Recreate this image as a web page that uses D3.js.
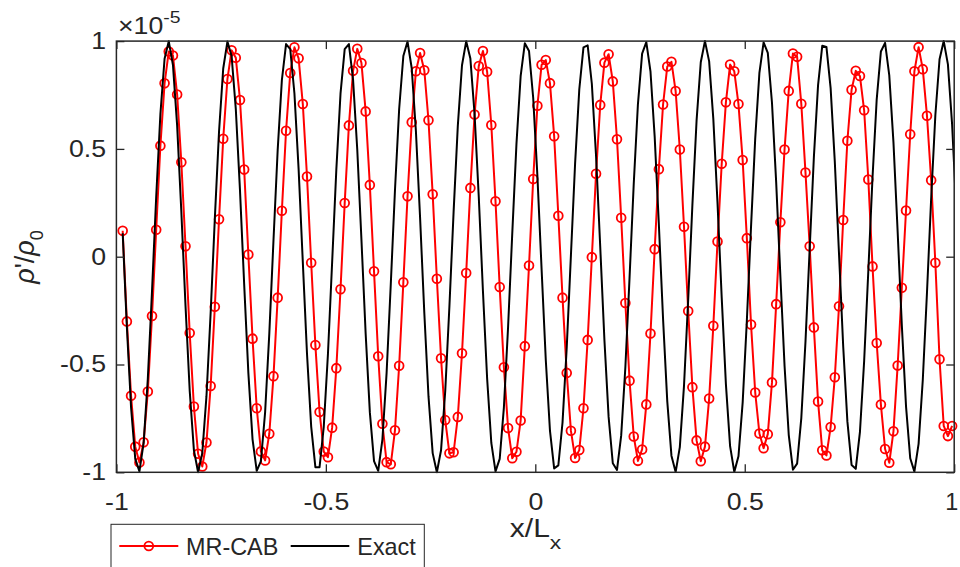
<!DOCTYPE html>
<html>
<head>
<meta charset="utf-8">
<script src="https://cdn.jsdelivr.net/npm/d3@7"></script>
<style>
  html, body { margin: 0; padding: 0; background: #fff; }
  svg { display: block; }
  text { font-family: "Liberation Sans", Arial, Helvetica, sans-serif; fill: #262626; }
</style>
</head>
<body>
<svg id="chart" width="960" height="567"></svg>
<script>
// ---------------- data ----------------
const seriesNames = ["MR-CAB", "Exact"];

// sample positions (cell centres)
const xGrid = [
-0.985,-0.975,-0.965,-0.955,-0.945,-0.935,-0.925,-0.915,-0.905,-0.895,
-0.885,-0.875,-0.865,-0.855,-0.845,-0.835,-0.825,-0.815,-0.805,-0.795,
-0.785,-0.775,-0.765,-0.755,-0.745,-0.735,-0.725,-0.715,-0.705,-0.695,
-0.685,-0.675,-0.665,-0.655,-0.645,-0.635,-0.625,-0.615,-0.605,-0.595,
-0.585,-0.575,-0.565,-0.555,-0.545,-0.535,-0.525,-0.515,-0.505,-0.495,
-0.485,-0.475,-0.465,-0.455,-0.445,-0.435,-0.425,-0.415,-0.405,-0.395,
-0.385,-0.375,-0.365,-0.355,-0.345,-0.335,-0.325,-0.315,-0.305,-0.295,
-0.285,-0.275,-0.265,-0.255,-0.245,-0.235,-0.225,-0.215,-0.205,-0.195,
-0.185,-0.175,-0.165,-0.155,-0.145,-0.135,-0.125,-0.115,-0.105,-0.095,
-0.085,-0.075,-0.065,-0.055,-0.045,-0.035,-0.025,-0.015,-0.005,0.005,
0.015,0.025,0.035,0.045,0.055,0.065,0.075,0.085,0.095,0.105,
0.115,0.125,0.135,0.145,0.155,0.165,0.175,0.185,0.195,0.205,
0.215,0.225,0.235,0.245,0.255,0.265,0.275,0.285,0.295,0.305,
0.315,0.325,0.335,0.345,0.355,0.365,0.375,0.385,0.395,0.405,
0.415,0.425,0.435,0.445,0.455,0.465,0.475,0.485,0.495,0.505,
0.515,0.525,0.535,0.545,0.555,0.565,0.575,0.585,0.595,0.605,
0.615,0.625,0.635,0.645,0.655,0.665,0.675,0.685,0.695,0.705,
0.715,0.725,0.735,0.745,0.755,0.765,0.775,0.785,0.795,0.805,
0.815,0.825,0.835,0.845,0.855,0.865,0.875,0.885,0.895,0.905,
0.915,0.925,0.935,0.945,0.955,0.965,0.975,0.985,0.995
];

// MR-CAB (x 1e-5)
const mrCab = [
0.12,-0.30,-0.645,-0.881,-0.955,-0.861,-0.625,-0.275,0.125,0.515,
0.804,0.952,0.933,0.752,0.438,0.048,-0.354,-0.695,-0.914,-0.973,
-0.862,-0.600,-0.232,0.174,0.547,0.824,0.957,0.923,0.727,0.404,
0.010,-0.380,-0.703,-0.903,-0.945,-0.821,-0.554,-0.190,0.213,0.584,
0.852,0.971,0.920,0.708,0.372,-0.028,-0.410,-0.720,-0.904,-0.930,
-0.793,-0.517,-0.151,0.249,0.609,0.862,0.964,0.898,0.674,0.333,
-0.068,-0.462,-0.775,-0.953,-0.963,-0.805,-0.506,-0.119,0.280,0.624,
0.860,0.945,0.865,0.633,0.290,-0.102,-0.471,-0.758,-0.912,-0.907,
-0.743,-0.448,-0.076,0.319,0.659,0.884,0.954,0.858,0.611,0.257,
-0.141,-0.513,-0.795,-0.935,-0.905,-0.76,-0.415,-0.041,0.36,0.70,
0.89,0.912,0.805,0.559,0.19,-0.19,-0.539,-0.807,-0.934,-0.897,
-0.703,-0.386,-0.002,0.385,0.704,0.900,0.939,0.813,0.545,0.181,
-0.215,-0.575,-0.834,-0.947,-0.894,-0.685,-0.356,0.035,0.406,0.706,
0.882,0.904,0.768,0.497,0.139,-0.252,-0.605,-0.852,-0.949,-0.881,
-0.658,-0.320,0.070,0.431,0.716,0.891,0.86,0.708,0.448,0.086,
-0.315,-0.63,-0.82,-0.888,-0.823,-0.583,-0.22,0.16,0.497,0.769,
0.942,0.927,0.709,0.39,0.048,-0.328,-0.672,-0.898,-0.922,-0.79,
-0.559,-0.23,0.17,0.538,0.774,0.862,0.838,0.679,0.358,-0.045,
-0.40,-0.686,-0.892,-0.956,-0.81,-0.505,-0.144,0.214,0.568,0.86,
0.972,0.87,0.654,0.355,-0.028,-0.476,-0.785,-0.832,-0.785
];

// Exact solution (x 1e-5): same grid plus one point just past x = 1
const xExact = xGrid.concat([1.005]);
const exact = [
0.109,-0.326,-0.699,-0.938,-0.996,-0.864,-0.566,-0.160,0.278,0.661,
0.918,0.999,0.889,0.608,0.210,-0.228,-0.622,-0.897,-1.0,-0.911,
-0.647,-0.260,0.178,0.581,0.873,0.998,0.931,0.686,0.309,-0.127,
-0.539,-0.847,-0.993,-0.948,-0.722,-0.357,0.076,0.495,0.819,0.986,
0.963,0.757,0.405,-0.025,-0.450,-0.788,-0.976,-0.976,-0.789,-0.451,
-0.026,0.403,0.756,0.963,0.986,0.820,0.496,0.077,-0.356,-0.721,
-0.948,-0.993,-0.848,-0.540,-0.128,0.308,0.685,0.931,0.998,0.874,
0.582,0.179,-0.259,-0.647,-0.911,-1.0,-0.898,-0.623,-0.229,0.209,
0.607,0.888,0.999,0.919,0.662,0.279,-0.159,-0.565,-0.864,-0.996,
-0.938,-0.700,-0.327,0.108,0.522,0.837,0.990,0.954,0.736,0.375,
-0.057,-0.478,-0.807,-0.982,-0.968,-0.769,-0.422,0.005,0.432,0.776,
0.971,0.980,0.801,0.468,0.046,-0.386,-0.743,-0.958,-0.989,-0.830,
-0.513,-0.097,0.338,0.708,0.942,0.995,0.858,0.556,0.148,-0.289,
-0.670,-0.923,-0.999,-0.883,-0.598,-0.198,0.240,0.632,0.902,1.0,
0.906,0.638,0.248,-0.190,-0.591,-0.879,-0.998,-0.926,-0.677,-0.297,
0.139,0.549,0.853,0.994,0.945,0.714,0.346,-0.088,-0.506,-0.826,
-0.988,-0.960,-0.749,-0.393,0.037,0.461,0.796,0.978,0.973,0.782,
0.440,0.014,-0.415,-0.764,-0.966,-0.984,-0.812,-0.485,-0.065,0.367,
0.730,0.952,0.992,0.841,0.530,0.116,-0.319,-0.694,-0.935,-0.997,
-0.868,-0.572,-0.167,0.270,0.656,0.916,1.0,0.892,0.614,0.217
];

const xTicks = [-1, -0.5, 0, 0.5, 1];
const xTickLabels = ["-1", "-0.5", "0", "0.5", "1"];
const yTicks = [-1, -0.5, 0, 0.5, 1];
const yTickLabels = ["-1", "-0.5", "0", "0.5", "1"];

// ---------------- layout ----------------
const L = 116.4, R = 954.2, T = 41.1, B = 472.3;
const axisColor = "#262626";
const tickFont = 23.4, stretch = 1.14;
const markerR = 4.4;

const svg = d3.select("#chart");
svg.append("rect").attr("width", 960).attr("height", 567).attr("fill", "#fff");

const x = d3.scaleLinear().domain([-1, 1]).range([L, R]);
const y = d3.scaleLinear().domain([-1, 1]).range([B, T]);

svg.append("defs").append("clipPath").attr("id", "plotclip")
  .append("rect").attr("x", L).attr("y", T - 1.5).attr("width", R - L).attr("height", B - T + 3);

// ---------------- series ----------------
const redData = xGrid.map((v, i) => [v, mrCab[i]]);
const blackData = xExact.map((v, i) => [v, exact[i]]);
const line = d3.line().x(d => x(d[0])).y(d => y(d[1]));

const gPlot = svg.append("g");
gPlot.append("path")
  .datum(redData)
  .attr("d", line)
  .attr("clip-path", "url(#plotclip)")
  .attr("fill", "none")
  .attr("stroke", "#ff0000")
  .attr("stroke-width", 2)
  .attr("stroke-linejoin", "round");

gPlot.append("g").selectAll("circle")
  .data(redData)
  .join("circle")
  .attr("cx", d => x(d[0]))
  .attr("cy", d => y(d[1]))
  .attr("r", markerR)
  .attr("fill", "none")
  .attr("stroke", "#ff0000")
  .attr("stroke-width", 1.8);

gPlot.append("path")
  .datum(blackData)
  .attr("d", line)
  .attr("clip-path", "url(#plotclip)")
  .attr("fill", "none")
  .attr("stroke", "#000000")
  .attr("stroke-width", 2)
  .attr("stroke-linejoin", "round");

// ---------------- axes ----------------
function styleAxis(g) {
  g.attr("color", axisColor);
  g.select(".domain").remove();
  g.selectAll(".tick line").attr("stroke-width", 1.3);
  g.selectAll(".tick text")
    .attr("font-size", tickFont)
    .attr("font-family", "'Liberation Sans', Arial, Helvetica, sans-serif")
    .attr("fill", axisColor)
    .attr("transform", `scale(${stretch},1)`);
}

svg.append("g").attr("transform", `translate(0,${B})`)
  .call(d3.axisBottom(x).tickValues(xTicks).tickFormat((d, i) => xTickLabels[i])
    .tickSizeInner(-8).tickSizeOuter(0).tickPadding(21.1))
  .call(styleAxis)
  .call(g => g.selectAll(".tick text")
    .filter(d => d === xTicks[xTicks.length - 1])
    .attr("transform", null)
    .attr("x", -3));

svg.append("g").attr("transform", `translate(0,${T})`)
  .call(d3.axisTop(x).tickValues(xTicks).tickFormat(() => "")
    .tickSizeInner(-8).tickSizeOuter(0))
  .call(styleAxis);

svg.append("g").attr("transform", `translate(${L},0)`)
  .call(d3.axisLeft(y).tickValues(yTicks).tickFormat((d, i) => yTickLabels[i])
    .tickSizeInner(-8).tickSizeOuter(0).tickPadding(10.4))
  .call(styleAxis)
  .call(g => g.selectAll(".tick text").attr("x", -10.4 / stretch));

svg.append("g").attr("transform", `translate(${R},0)`)
  .call(d3.axisRight(y).tickValues(yTicks).tickFormat(() => "")
    .tickSizeInner(-8).tickSizeOuter(0))
  .call(styleAxis);

// box
svg.append("rect")
  .attr("x", L).attr("y", T).attr("width", R - L).attr("height", B - T)
  .attr("fill", "none").attr("stroke", axisColor).attr("stroke-width", 1.5);

// exponent label
const expo = svg.append("text")
  .attr("transform", `translate(118,34.3) scale(${stretch},1)`)
  .attr("font-size", tickFont);
expo.append("tspan").text("\u00d710");
expo.append("tspan").attr("font-size", 17).attr("dy", -11.5).text("-5");

// x label
const xl = svg.append("text")
  .attr("transform", "translate(535.5,536.7) scale(1.2,1)")
  .attr("text-anchor", "middle").attr("font-size", 25);
xl.append("tspan").text("x/L");
xl.append("tspan").attr("font-size", 19).attr("dy", 12).text("x");

// y label
const yl = svg.append("text")
  .attr("transform", "translate(34,257) rotate(-90)")
  .attr("text-anchor", "middle").attr("font-size", 27);
yl.append("tspan").attr("font-style", "italic").text("\u03c1");
yl.append("tspan").text("'/");
yl.append("tspan").attr("font-style", "italic").text("\u03c1");
yl.append("tspan").attr("font-size", 18).attr("dy", 9).text("0");

// ---------------- legend ----------------
const lg = svg.append("g");
lg.append("rect").attr("x", 111).attr("y", 524.3).attr("width", 313.3).attr("height", 60)
  .attr("fill", "#fff").attr("stroke", axisColor).attr("stroke-width", 1);

const legendItems = [
  { name: seriesNames[0], color: "#ff0000", marker: true, x0: 119.3, x1: 178.3, tx: 186 },
  { name: seriesNames[1], color: "#000000", marker: false, x0: 290.7, x1: 349.3, tx: 357.3 }
];
legendItems.forEach(it => {
  lg.append("line").attr("x1", it.x0).attr("x2", it.x1).attr("y1", 546).attr("y2", 546)
    .attr("stroke", it.color).attr("stroke-width", 2);
  if (it.marker) {
    lg.append("circle").attr("cx", (it.x0 + it.x1) / 2).attr("cy", 546).attr("r", markerR)
      .attr("fill", "none").attr("stroke", it.color).attr("stroke-width", 1.8);
  }
  lg.append("text").attr("x", it.tx).attr("y", 555).attr("font-size", 23.4).text(it.name);
});
</script>
</body>
</html>
